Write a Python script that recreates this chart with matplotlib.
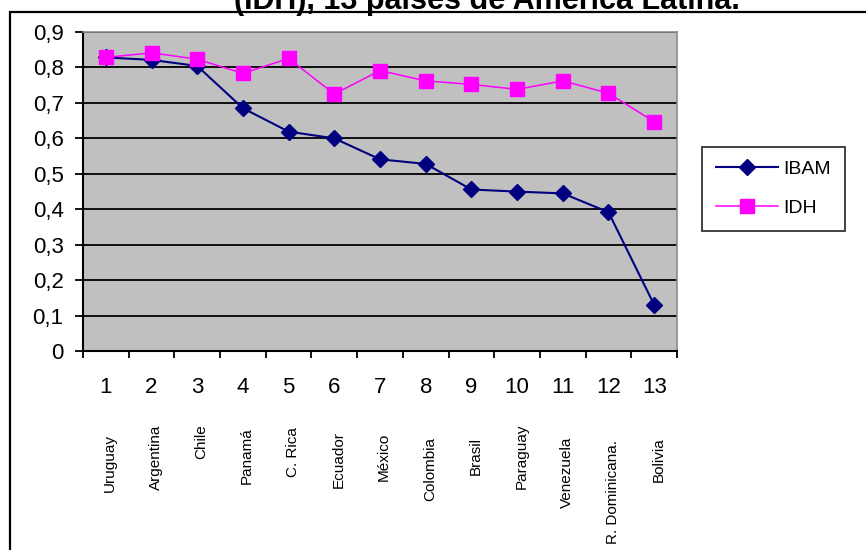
import matplotlib.pyplot as plt
from matplotlib.patches import Rectangle
from matplotlib.ticker import FixedLocator
import numpy as np

plt.rcParams['font.family'] = ['Liberation Sans', 'DejaVu Sans']

# ranking de paises
posicion = list(range(1, 14))
paises = ['Uruguay', 'Argentina', 'Chile', 'Panamá', 'C. Rica', 'Ecuador', 'México',
          'Colombia', 'Brasil', 'Paraguay', 'Venezuela', 'R. Dominicana.', 'Bolivia']
ibam = [0.827, 0.820, 0.803, 0.684, 0.618, 0.599, 0.540, 0.527, 0.455, 0.449, 0.444, 0.391, 0.130]
idh = [0.827, 0.840, 0.822, 0.782, 0.824, 0.724, 0.790, 0.761, 0.751, 0.737, 0.761, 0.726, 0.646]
yticks = [0, 0.1, 0.2, 0.3, 0.4, 0.5, 0.6, 0.7, 0.8, 0.9]

# desplazamiento vertical (pt) de cada nombre bajo el eje
bajada = [60, 53, 53, 55, 55, 58, 59, 62, 62, 52, 62, 64, 62]

fig = plt.figure(figsize=(8.66, 5.5), dpi=100)
ax = fig.add_axes([0.0958, 0.3618, 0.6860, 0.5809])
ax.set_facecolor('#c0c0c0')

ax.plot(posicion, ibam, color='#000080', lw=1.5, marker='D', ms=8, label='IBAM', zorder=3)
ax.plot(posicion, idh, color='#ff00ff', lw=1.1, marker='s', ms=10, label='IDH', zorder=3)

ax.set_xlim(0.5, 13.5)
ax.set_ylim(0, 0.9)
ax.set_yticks(yticks)
ax.set_yticklabels([('%.1f' % v).replace('.', ',') if v else '0' for v in yticks])
ax.yaxis.grid(True, color='black', lw=1.3)
ax.set_axisbelow(True)

ax.set_xticks(posicion)
ax.set_xticklabels([str(p) for p in posicion])
ax.xaxis.set_minor_locator(FixedLocator(np.arange(0.5, 14, 1)))
ax.tick_params(axis='x', which='major', length=0, pad=19, labelsize=16)
ax.tick_params(axis='x', which='minor', length=5, width=1.3, direction='out')
ax.tick_params(axis='y', length=6, width=1.3, pad=8, labelsize=16)

for s in ['left', 'bottom']:
    ax.spines[s].set_color('black')
    ax.spines[s].set_linewidth(1.5)
for s in ['top', 'right']:
    ax.spines[s].set_color('#8c8c8c')
    ax.spines[s].set_linewidth(1.2)

for p, nombre, b in zip(posicion, paises, bajada):
    ax.annotate(nombre, xy=(p, 0), xycoords=('data', 'axes fraction'),
                xytext=(3, -b), textcoords='offset points',
                rotation=90, ha='center', va='top', fontsize=11)

fig.legend(loc='upper left', bbox_to_anchor=(702 / 866, 1 - 147 / 550),
           fontsize=14, frameon=True, fancybox=False, edgecolor='black',
           numpoints=1, handlelength=3.2, handletextpad=0.3, labelspacing=1.1,
           borderpad=0.7, borderaxespad=0)
leg = fig.legends[0]
leg.get_frame().set_linewidth(1.3)

fig.text(487 / 866, 1 - 9 / 550, '(IDH), 13 países de América Latina.',
         ha='center', va='baseline', fontsize=22, fontweight='bold')

fig.patches.append(Rectangle((9.5 / 866, -0.1), 1.2, 1 - 12 / 550 + 0.1,
                             transform=fig.transFigure, fill=False,
                             edgecolor='black', lw=1.6))

fig.savefig('out.png', dpi=100)
